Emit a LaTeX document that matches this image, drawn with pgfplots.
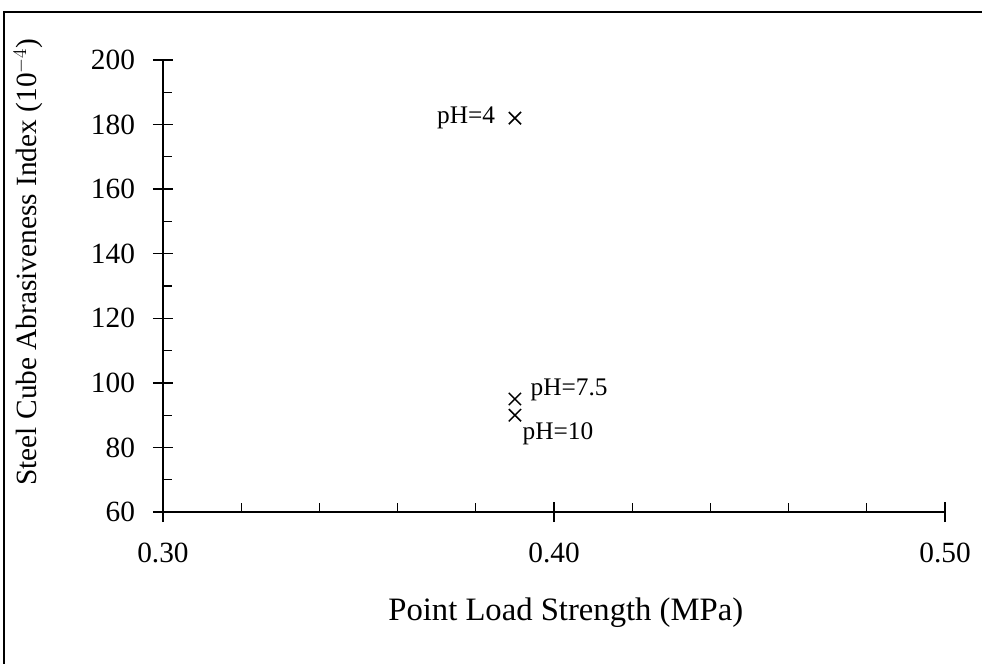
\documentclass[border=0pt]{standalone}
\usepackage{fontspec}
\setmainfont{Liberation Serif}
\usepackage{pgfplots}
\pgfplotsset{compat=1.18}

\begin{document}
\begin{tikzpicture}
% page: 982x664 px, 1px = 0.75pt, origin at top left
\useasboundingbox (0,0) rectangle (736.5pt,-498pt);
\draw[line width=1.3pt] (3pt,-498pt) -- (3pt,-9pt) -- (736.5pt,-9pt);

\pgfplotsset{
  base/.style={
    at={(122.25pt,-384pt)}, anchor=south west,
    scale only axis, width=586.5pt, height=339pt,
    xmin=0.30, xmax=0.50, ymin=60, ymax=200,
    axis lines=left, axis line style={-, line width=1.2pt},
    clip=false,
  }
}

% small ticks, inside only
\begin{axis}[base,
  xtick={0.32,0.34,0.36,0.38,0.42,0.44,0.46,0.48},
  ytick={70,90,110,130,150,170,190},
  xticklabels={}, yticklabels={},
  tick align=inside, major tick length=6.75pt,
  major tick style={line width=0.9pt, black},
]
\end{axis}

% major ticks crossing the axis, labels, data
\begin{axis}[base,
  xtick={0.30,0.40,0.50},
  ytick={60,80,...,200},
  tick align=center, major tick length=15pt,
  major tick style={line width=1pt, black},
  /pgf/number format/assume math mode=true,
  xticklabel={\pgfmathprintnumber[fixed,fixed zerofill,precision=2]{\tick}},
  tick label style={font=\fontsize{22}{26}\selectfont},
  xticklabel style={yshift=-12pt},
  yticklabel style={xshift=-10pt},
  xlabel={Point Load Strength (MPa)},
  ylabel={Steel Cube Abrasiveness Index (10$^{-4}$)},
  xlabel style={font=\fontsize{24.5}{28}\selectfont,
    at={(axis description cs:0.515,-0.2235)}, anchor=center},
  ylabel style={font=\fontsize{22}{26}\selectfont,
    at={(axis description cs:-0.1726,0.553)}, anchor=center, rotate=0},
  every node near coord/.append style={font=\fontsize{19}{22}\selectfont, black},
]
\addplot[only marks, mark=x, mark size=6.5pt, line width=1.1pt, black,
  nodes near coords={pH=4},
  every node near coord/.append style={anchor=east, xshift=-11pt, yshift=0pt}]
  coordinates {(0.39,182)};
\addplot[only marks, mark=x, mark size=6.5pt, line width=1.1pt, black,
  nodes near coords={pH=7.5},
  every node near coord/.append style={anchor=west, xshift=8pt, yshift=7pt}]
  coordinates {(0.39,95)};
\addplot[only marks, mark=x, mark size=6.5pt, line width=1.1pt, black,
  nodes near coords={pH=10},
  every node near coord/.append style={anchor=west, xshift=2pt, yshift=-14pt}]
  coordinates {(0.39,90)};
\end{axis}
\end{tikzpicture}
\end{document}
